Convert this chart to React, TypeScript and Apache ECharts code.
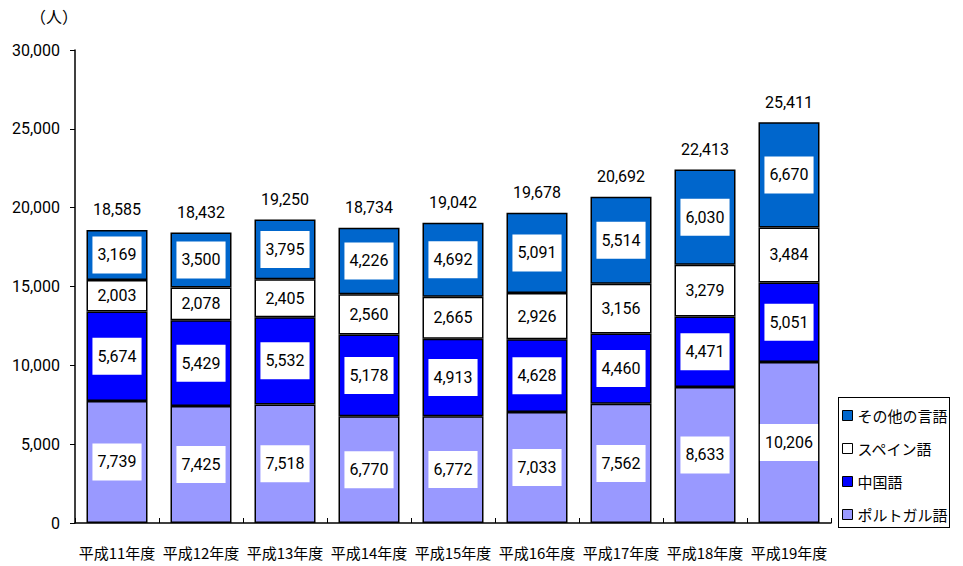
import React, { useEffect, useRef } from "react";
import * as echarts from "echarts";

const categories = ["平成11年度", "平成12年度", "平成13年度", "平成14年度", "平成15年度", "平成16年度", "平成17年度", "平成18年度", "平成19年度"];
const portuguese = [7739, 7425, 7518, 6770, 6772, 7033, 7562, 8633, 10206];
const chinese = [5674, 5429, 5532, 5178, 4913, 4628, 4460, 4471, 5051];
const spanish = [2003, 2078, 2405, 2560, 2665, 2926, 3156, 3279, 3484];
const others = [3169, 3500, 3795, 4226, 4692, 5091, 5514, 6030, 6670];
const totals = [18585, 18432, 19250, 18734, 19042, 19678, 20692, 22413, 25411];
const yTicks = [0, 5000, 10000, 15000, 20000, 25000, 30000];

const FONT = "'Liberation Sans Narrow', Roboto, 'Noto Sans CJK JP', sans-serif";
const JP = "'Noto Sans CJK JP', sans-serif";
const fmt = (v: number) => v.toLocaleString("en-US");

export default function App() {
  const ref = useRef<HTMLDivElement>(null);
  useEffect(() => {
    document.body.style.margin = "0";
    if (!ref.current) return;
    const chart = echarts.init(ref.current, undefined, { renderer: "svg" });
    const segLabel = (boxed: boolean) => ({
      show: true,
      position: "inside" as const,
      color: "#000",
      fontFamily: FONT,
      fontSize: 16,
      backgroundColor: boxed ? "#fff" : "transparent",
      padding: [11, 5, 10, 5],
      formatter: (p: any) => fmt(p.value),
    });
    const mk = (name: string, data: number[], color: string, boxed: boolean) => ({
      name,
      type: "bar" as const,
      stack: "total",
      data,
      barWidth: 61,
      itemStyle: { color, borderColor: "#000", borderWidth: 1.5 },
      label: segLabel(boxed),
    });
    chart.setOption({
      animation: false,
      textStyle: { fontFamily: FONT },
      grid: { left: 75, right: 132, top: 50, bottom: 43, containLabel: false },
      graphic: [
        {
          type: "text",
          left: 30,
          top: 8,
          style: { text: "（人）", fontFamily: JP, fontSize: 16, fill: "#000" },
        },
      ],
      legend: {
        orient: "vertical",
        left: 838,
        top: 397,
        icon: "rect",
        data: ["その他の言語", "スペイン語", "中国語", "ポルトガル語"],
        padding: [11, 4, 9, 4],
        itemWidth: 10,
        itemHeight: 10,
        itemGap: 18,
        textStyle: { fontFamily: JP, fontSize: 15, color: "#000" },
        itemStyle: { borderColor: "#000", borderWidth: 1 },
      },
      xAxis: {
        type: "category",
        data: categories,
        axisLine: { lineStyle: { color: "#000", width: 1.5 } },
        axisTick: { show: true, inside: true, length: 5, alignWithLabel: false, lineStyle: { color: "#000" } },
        axisLabel: { color: "#000", fontFamily: JP, fontSize: 15, margin: 22, interval: 0 },
      },
      yAxis: {
        type: "value",
        min: 0,
        max: 30000,
        interval: 5000,
        splitLine: { show: false },
        axisLine: { show: true, lineStyle: { color: "#000", width: 1.5 } },
        axisTick: { show: true, length: 5, lineStyle: { color: "#000" } },
        axisLabel: {
          color: "#000",
          fontFamily: FONT,
          fontSize: 16,
          margin: 15,
          formatter: (v: number) => (yTicks.includes(v) ? fmt(v) : ""),
        },
      },
      series: [
        mk("ポルトガル語", portuguese, "#9999FF", true),
        mk("中国語", chinese, "#0000FF", true),
        mk("スペイン語", spanish, "#FFFFFF", false),
        mk("その他の言語", others, "#0066CC", true),
        {
          name: "合計",
          type: "bar",
          stack: "total",
          data: totals.map(() => 0),
          barWidth: 61,
          itemStyle: { color: "transparent", borderWidth: 0 },
          label: {
            show: true,
            position: "top",
            distance: 12,
            color: "#000",
            fontFamily: FONT,
            fontSize: 16,
            formatter: (p: any) => fmt(totals[p.dataIndex]),
          },
        },
      ],
    });
    return () => chart.dispose();
  }, []);
  return (
    <div style={{ position: "relative", width: 963, height: 566 }}>
      <div ref={ref} style={{ width: 963, height: 566 }} />
      <div
        style={{
          position: "absolute",
          left: 838,
          top: 397,
          width: 110,
          height: 129,
          border: "1px solid #000",
          pointerEvents: "none",
          boxSizing: "content-box",
        }}
      />
    </div>
  );
}
